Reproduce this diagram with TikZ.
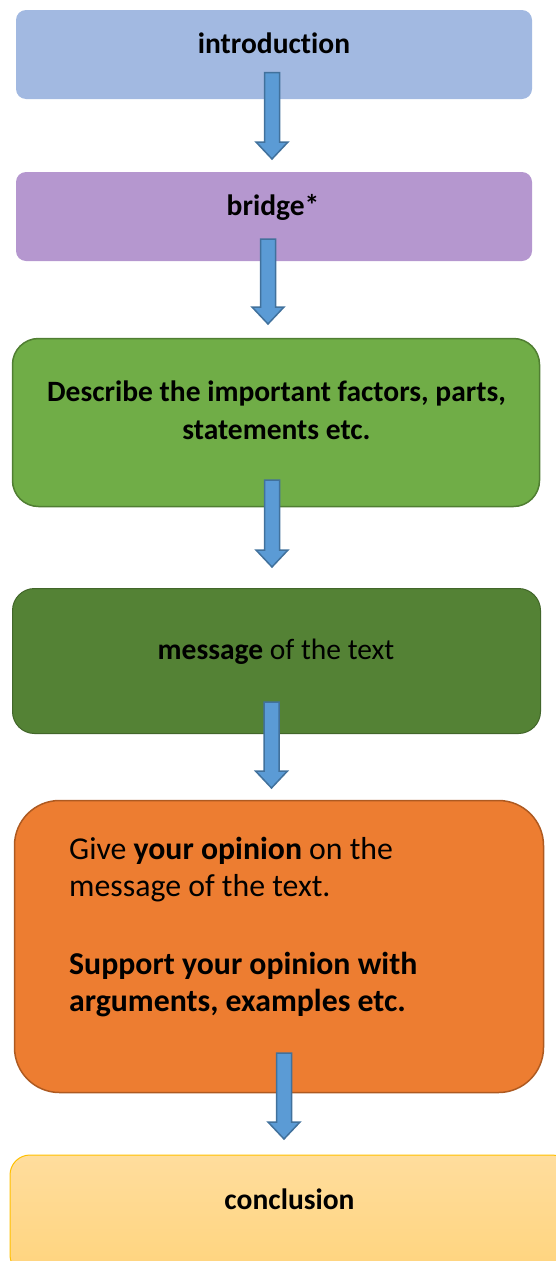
\documentclass[tikz,border=0pt]{standalone}
\usepackage{fontspec}
\setmainfont{Carlito}[Ligatures=NoCommon]
\usetikzlibrary{calc}

\definecolor{introblue}{RGB}{162,185,225}
\definecolor{bridgepurple}{RGB}{181,151,207}
\definecolor{descgreen}{RGB}{112,173,71}
\definecolor{descedge}{RGB}{80,126,50}
\definecolor{msggreen}{RGB}{84,130,53}
\definecolor{msgedge}{RGB}{66,102,42}
\definecolor{opinorange}{RGB}{237,125,49}
\definecolor{opinedge}{RGB}{174,90,33}
\definecolor{conctop}{RGB}{255,221,157}
\definecolor{concbot}{RGB}{255,212,125}
\definecolor{concedge}{RGB}{255,192,0}
\definecolor{arrowfill}{RGB}{91,155,213}
\definecolor{arrowedge}{RGB}{65,113,156}

\tikzset{
	box/.style={rectangle, inner sep=0pt},
	txt/.style={font=\fontsize{29.5}{36}\selectfont, inner sep=0pt, anchor=base},
	bigtxt/.style={font=\fontsize{31.8}{37.7}\selectfont, inner sep=0pt, anchor=base west},
	arrowbody/.style={fill=arrowfill, draw=arrowedge, line width=1.5pt},
}

% block arrow, tail (#1) to tip (#2)
\newcommand{\fatarrow}[2]{%
	\draw [arrowbody] ($(#1)+(-7.5,0)$) -- ($(#2)+(-7.5,-17)$) -- ($(#2)+(-16,-17)$) -- (#2)
		-- ($(#2)+(16,-17)$) -- ($(#2)+(7.5,-17)$) -- ($(#1)+(7.5,0)$) -- cycle;}

\begin{document}
\begin{tikzpicture}[x=1pt, y=-1pt]
	\clip (0,0) rectangle (556,1261);
	% boxes
	\node [box, fill=introblue, rounded corners=10pt, minimum width=516pt, minimum height=89pt] (intro) at (274,54.5) {};
	\node [box, fill=bridgepurple, rounded corners=10pt, minimum width=516pt, minimum height=89pt] (bridge) at (274,216.5) {};
	\node [box, fill=descgreen, draw=descedge, line width=1.5pt, rounded corners=26pt, minimum width=527pt, minimum height=168pt] (desc) at (276,422.5) {};
	\node [box, fill=msggreen, draw=msgedge, line width=1pt, rounded corners=22pt, minimum width=528pt, minimum height=145pt] (msg) at (276.5,661) {};
	\node [box, fill=opinorange, draw=opinedge, line width=1.5pt, rounded corners=45pt, minimum width=529pt, minimum height=292pt] (opin) at (279,946.5) {};
	\node [box, top color=conctop, bottom color=concbot, draw=concedge, line width=1pt, rounded corners=20pt, minimum width=562pt, minimum height=120pt] (conc) at (291,1215) {};

	% texts
	\node [txt] (introtxt) at (274,53) {\textbf{introduction}};
	\node [txt] (bridgetxt) at (273,215) {\textbf{bridge*}};
	\node [txt] (desctxt1) at (276.5,401.5) {\textbf{Describe the important factors, parts,}};
	\node [txt] (desctxt2) at (276.5,439) {\textbf{statements etc.}};
	\node [txt] (msgtxt) at (276,659) {\textbf{message} of the text};
	\node [bigtxt] (opintxt1) at (69,859) {Give \textbf{your opinion} on the};
	\node [bigtxt] (opintxt2) at (69,896.7) {message of the text.};
	\node [bigtxt] (opintxt3) at (69,974) {\textbf{Support your opinion with}};
	\node [bigtxt] (opintxt4) at (69,1011.7) {\textbf{arguments, examples etc.}};
	\node [txt] (conctxt) at (289.5,1209) {\textbf{conclusion}};

	% arrow ends
	\coordinate (a1s) at (272,72.5);   \coordinate (a1e) at (272,159);
	\coordinate (a2s) at (268,239);    \coordinate (a2e) at (268,324);
	\coordinate (a3s) at (272,480);    \coordinate (a3e) at (272,567);
	\coordinate (a4s) at (271.5,702);  \coordinate (a4e) at (271.5,788);
	\coordinate (a5s) at (284,1053);   \coordinate (a5e) at (284,1139);
	\fatarrow{a1s}{a1e}
	\fatarrow{a2s}{a2e}
	\fatarrow{a3s}{a3e}
	\fatarrow{a4s}{a4e}
	\fatarrow{a5s}{a5e}
\end{tikzpicture}
\end{document}
